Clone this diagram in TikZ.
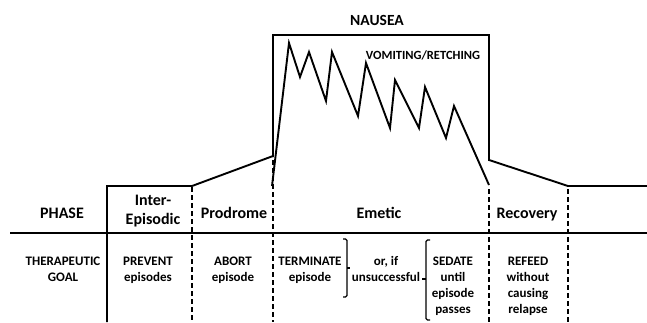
\documentclass[tikz,border=0pt]{standalone}
\usepackage{fontspec}
\setmainfont{Carlito}
\begin{document}
\begin{tikzpicture}[x=1pt,y=-1pt,line width=1.9pt,
	phase/.style={font=\fontsize{16}{19}\selectfont\bfseries,align=center,inner sep=0pt},
	goal/.style={font=\fontsize{13}{16}\selectfont\bfseries,align=center,inner sep=0pt,anchor=north},
	title/.style={font=\fontsize{15.5}{18}\selectfont\bfseries,inner sep=0pt},
	sep/.style={line width=1.5pt,dash pattern=on 5pt off 3pt},
	bracket/.style={line width=1.2pt,rounded corners=1.5pt}]
	\useasboundingbox (0,0) rectangle (647,322);
	\draw (107,322)--(107,186)--(192,186)--(273,156);
	\draw (273,157)--(273,35)--(489,35)--(489,160)--(568,186)--(647,186);
	\draw (272,186)--(289,43)--(300,77)--(309,52)--(326,101)--(332,52)--(358,116)--(366,63)--(390,128)--(395,80)--(419,128)--(425,87)--(446,138)--(454,106)--(489,185);
	\draw (10,233)--(647,233);
	\draw[sep] (192,187)--(192,322);
	\draw[sep] (273,160)--(273,322);
	\draw[sep] (489,189)--(489,322);
	\draw[sep] (568,189)--(568,322);
	\node[title] (nausea) at (377,20) {NAUSEA};
	\node[title,font=\fontsize{12.5}{15}\selectfont\bfseries] (vomit) at (423,55) {VOMITING/RETCHING};
	\node[phase,anchor=base] (phase) at (62,218) {PHASE};
	\node[phase,anchor=north] (inter) at (153,194) {Inter-\\Episodic};
	\node[phase,anchor=base] (prodrome) at (234,218) {Prodrome};
	\node[phase,anchor=base] (emetic) at (379,218) {Emetic};
	\node[phase,anchor=base] (recovery) at (527,218) {Recovery};
	\node[goal] (goal) at (63,256) {THERAPEUTIC\\GOAL};
	\node[goal] (prevent) at (148,256) {PREVENT\\episodes};
	\node[goal] (abort) at (233,256) {ABORT\\episode};
	\node[goal] (terminate) at (310,256) {TERMINATE\\episode};
	\node[goal] (orif) at (386,255) {or, if\\unsuccessful};
	\node[goal] (sedate) at (453,256) {SEDATE\\until\\episode\\passes};
	\node[goal] (refeed) at (528,256) {REFEED\\without\\causing\\relapse};
	\draw[bracket] (343,239)--(347,239)--(347,297)--(343,297);
	\draw[bracket] (347,268)--(350,268);
	\draw[bracket] (430,240)--(426,240)--(426,320)--(430,320);
	\draw[bracket] (426,279)--(422,279);
\end{tikzpicture}
\end{document}
